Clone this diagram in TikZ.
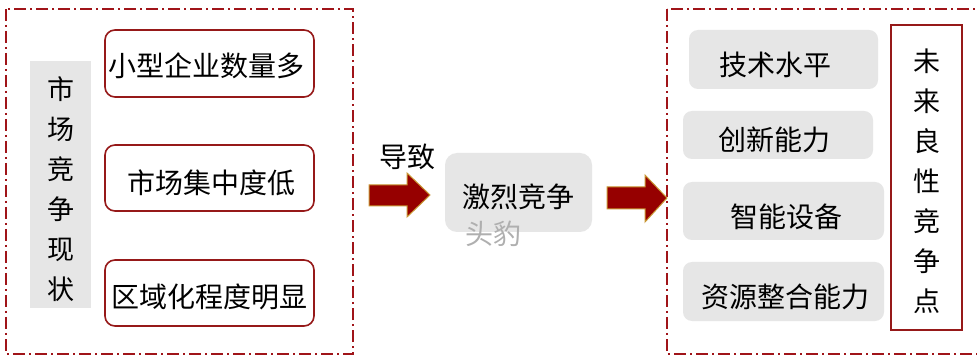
\documentclass[tikz,border=0pt]{standalone}
\usepackage{fontspec}
\setmainfont{Noto Sans CJK SC}
\definecolor{frame}{RGB}{160,20,25}
\definecolor{boxred}{RGB}{150,25,25}
\definecolor{greyfill}{RGB}{230,230,230}
\definecolor{arrowred}{RGB}{150,0,0}
\definecolor{arrowgold}{RGB}{200,150,50}
\begin{document}
\begin{tikzpicture}[x=1pt,y=-1pt,
  dashframe/.style={draw=frame,line width=1.8pt,dash pattern=on 12pt off 4pt on 2pt off 4pt},
  redbox/.style={draw=boxred,line width=1.6pt,rounded corners=10pt,fill=white},
  greybox/.style={fill=greyfill,rounded corners=9pt},
  txt/.style={font=\fontsize{28}{32}\selectfont,inner sep=0pt,text=black},
  vtxt/.style={font=\fontsize{27}{40}\selectfont,inner sep=0pt,align=center,text=black},
  blockarrow/.style={fill=arrowred,draw=arrowgold,line width=1pt,line join=miter}
]
\useasboundingbox (0,0) rectangle (977,355);
\clip (0,0) rectangle (977,355);
\fill[white] (0,0) rectangle (977,355);
% frames
\draw[dashframe] (6,9) rectangle (353,354);
\draw[dashframe] (667,9) rectangle (990,354);
% left column
\fill[greyfill] (30,61) rectangle (91,308);
\node[vtxt] (status) at (60.5,189) {市\\场\\竞\\争\\现\\状};
\draw[redbox] (105,30) rectangle (314,97);
\node[txt] (b1) at (206,66) {小型企业数量多};
\draw[redbox] (105,145) rectangle (314,211);
\node[txt] (b2) at (211,183) {市场集中度低};
\draw[redbox] (105,260) rectangle (314,326);
\node[txt] (b3) at (209,297) {区域化程度明显};
% middle
\node[txt] (cause) at (407,157) {导致};
\draw[blockarrow] (369,185) -- (407,185) -- (407,173) -- (430,195) -- (407,217) -- (407,206) -- (369,206) -- cycle;
\fill[greyfill,rounded corners=12pt] (445,153) rectangle (592,232);
\node[txt] (fierce) at (518,197) {激烈竞争};
\node[txt,text={rgb,255:red,175;green,175;blue,175}] (wm) at (493,234) {头豹};
\draw[blockarrow] (607,187) -- (645,187) -- (645,175) -- (667,198) -- (645,222) -- (645,209) -- (607,209) -- cycle;
% right column
\fill[greybox] (689,30) rectangle (878,89);
\node[txt] (r1) at (775,65) {技术水平};
\fill[greybox] (683,111) rectangle (873,159);
\node[txt] (r2) at (774,140) {创新能力};
\fill[greybox] (683,182) rectangle (884,240);
\node[txt] (r3) at (786,217) {智能设备};
\fill[greybox] (683,262) rectangle (884,321);
\node[txt] (r4) at (785,297) {资源整合能力};
\draw[boxred,line width=1.6pt] (891,25) rectangle (962,330);
\node[vtxt] (future) at (926.5,181) {未\\来\\良\\性\\竞\\争\\点};
\end{tikzpicture}
\end{document}
